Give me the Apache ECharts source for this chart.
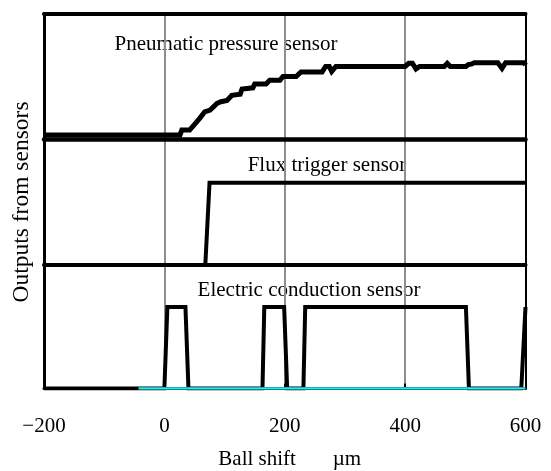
<!DOCTYPE html>
<html>
<head>
<meta charset="utf-8">
<script src="https://cdn.jsdelivr.net/npm/echarts@6/dist/echarts.min.js"></script>
<style>
html,body{margin:0;padding:0;background:#fff;}
#chart{width:551px;height:471px;}
</style>
</head>
<body>
<div id="chart"></div>
<script>
// ---- data ----
var xTickLabels = ['\u2212200', '0', '200', '400', '600'];
var seriesNames = ['Pneumatic pressure sensor', 'Flux trigger sensor', 'Electric conduction sensor'];
var pneumatic = [
  [-200,0.036],[26,0.036],[29,0.075],[42,0.075],[59,0.17],[67,0.22],[76,0.234],[87,0.285],
  [94,0.30],[104,0.31],[112,0.35],[126,0.36],[129,0.40],[147,0.41],[150,0.44],[169,0.44],
  [175,0.47],[192,0.47],[197,0.50],[219,0.50],[227,0.536],[262,0.536],[268,0.58],[274,0.58],
  [278,0.54],[285,0.58],[400,0.58],[406,0.605],[412,0.605],[418,0.56],[424,0.58],[465,0.58],
  [470,0.605],[475,0.58],[501,0.58],[505,0.595],[508,0.58],[511,0.60],[515,0.61],[554,0.61],
  [561,0.565],[567,0.61],[598,0.61],[600,0.59]
];
var flux = [[-200,0],[68,0],[75,0.655],[600,0.655]];
var electric = [
  [-200,0],[0,0],[5,0.66],[35,0.66],[40,0],[163,0],[166,0.66],[199,0.66],[204,0],
  [231,0],[234,0.66],[501,0.66],[506,0],[593,0],[600,0.66]
];
var reference = [[-43,0],[600,0]];

var FONT = 'Liberation Serif, Times New Roman, serif';
var grids = [
  {left:44, right:25.5, top:13.5, height:126},
  {left:44, right:25.5, top:139.5, height:125.5},
  {left:44, right:25.5, top:265, height:123.5}
];
var sepWidths = [4.5, 4, 3];

var xAxes = [], yAxes = [];
grids.forEach(function(g, i){
  xAxes.push({
    type:'value', gridIndex:i, min:-200, max:600, interval:200, position:'bottom',
    axisLine:{show:true, onZero:false, lineStyle:{color:'#000', width:sepWidths[i]}},
    axisTick:{show:i===2, inside:true, length:5, lineStyle:{color:'#000', width:2}},
    axisLabel:{show:i===2, margin:27, color:'#000', fontFamily:FONT, fontSize:21,
      formatter:function(v){ return xTickLabels[(v+200)/200]; }},
    splitLine:{show:true, lineStyle:{color:'#8e8e8e', width:2}},
    name: i===2 ? 'Ball shift       \u00b5m' : '',
    nameLocation:'middle', nameGap:60,
    nameTextStyle:{color:'#000', fontFamily:FONT, fontSize:21, padding:[0,0,0,10]}
  });
  yAxes.push({
    type:'value', gridIndex:i, min:0, max:1, position:'left',
    axisLine:{show:true, onZero:false, lineStyle:{color:'#000', width:3}},
    axisTick:{show:false}, axisLabel:{show:false}, splitLine:{show:false}
  });
  yAxes.push({
    type:'value', gridIndex:i, min:0, max:1, position:'right',
    axisLine:{show:true, onZero:false, lineStyle:{color:'#000', width:2}},
    axisTick:{show:false}, axisLabel:{show:false}, splitLine:{show:false}
  });
});
// top border
xAxes.push({
  type:'value', gridIndex:0, min:-200, max:600, interval:200, position:'top',
  axisLine:{show:true, onZero:false, lineStyle:{color:'#000', width:4}},
  axisTick:{show:false}, axisLabel:{show:false}, splitLine:{show:false}
});

function lineSeries(data, xi, yi, w, color, z){
  return {type:'line', data:data, xAxisIndex:xi, yAxisIndex:yi, showSymbol:false, symbol:'none',
    z:z||3, lineStyle:{color:color, width:w, join:'miter', cap:'butt'}, animation:false};
}

var option = {
  animation:false,
  backgroundColor:'#fff',
  grid:grids,
  xAxis:xAxes,
  yAxis:yAxes,
  series:[
    lineSeries(pneumatic, 0, 0, 5, '#000'),
    lineSeries(flux, 1, 2, 4, '#000'),
    lineSeries(electric, 2, 4, 4, '#000'),
    lineSeries(reference, 2, 4, 2.5, '#22eaf0', 4)
  ],
  graphic:[
    {type:'text', x:226, y:44, style:{text:seriesNames[0], font:'21px '+FONT, fill:'#000', textAlign:'center', textVerticalAlign:'middle'}},
    {type:'text', x:327, y:165, style:{text:seriesNames[1], font:'21px '+FONT, fill:'#000', textAlign:'center', textVerticalAlign:'middle'}},
    {type:'text', x:309, y:290, style:{text:seriesNames[2], font:'21px '+FONT, fill:'#000', textAlign:'center', textVerticalAlign:'middle'}},
    {type:'text', x:22, y:202, rotation:Math.PI/2, style:{text:'Outputs from sensors', font:'23.5px '+FONT, fill:'#000', textAlign:'center', textVerticalAlign:'middle'}}
  ]
};
var chart = echarts.init(document.getElementById('chart'), null, {renderer:'canvas'});
chart.setOption(option);
</script>
</body>
</html>
